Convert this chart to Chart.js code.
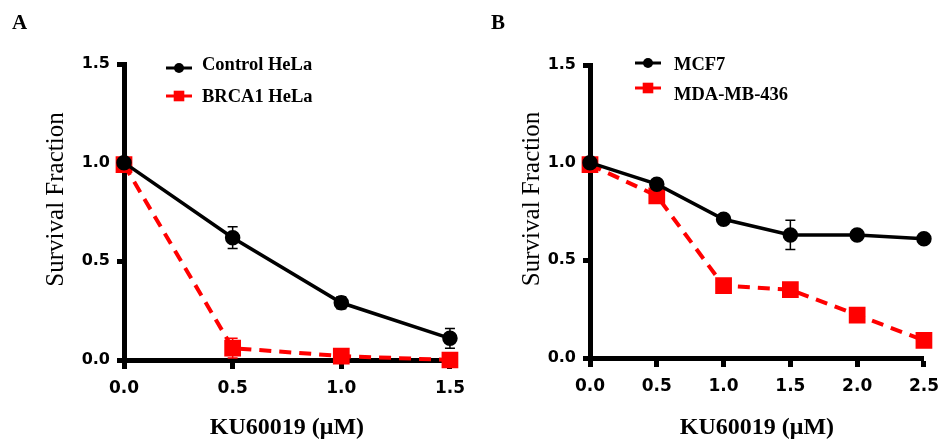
<!DOCTYPE html>
<html>
<head>
<meta charset="utf-8">
<script src="https://cdn.jsdelivr.net/npm/chart.js@4.4.1/dist/chart.umd.min.js"></script>
<style>
  body { margin: 0; background: #fff; width: 948px; height: 444px; overflow: hidden; position: relative; }
  .panel { position: absolute; top: 0; width: 474px; height: 444px; }
  .tag { position: absolute; top: 10px; font: bold 21px "Liberation Serif", serif; color: #000; }
</style>
</head>
<body>
<div class="panel" style="left:0"><canvas id="chartA" width="474" height="444"></canvas></div>
<div class="panel" style="left:474px"><canvas id="chartB" width="474" height="444"></canvas></div>
<div class="tag" style="left:12px">A</div>
<div class="tag" style="left:491px">B</div>
<script>
// Panel A data
const dosesA = [0, 0.5, 1.0, 1.5];
const controlHeLa = [1.0, 0.62, 0.29, 0.11];
const controlHeLaErr = [0, 0.055, 0.03, 0.05];
const brca1HeLa = [0.99, 0.06, 0.02, 0.0];
const brca1HeLaErr = [0, 0.05, 0.01, 0];

// Panel B data
const dosesB = [0, 0.5, 1.0, 1.5, 2.0, 2.5];
const mcf7 = [1.0, 0.89, 0.71, 0.63, 0.63, 0.61];
const mcf7Err = [0, 0.015, 0.02, 0.075, 0.01, 0.01];
const mda436 = [0.99, 0.83, 0.37, 0.35, 0.22, 0.09];
const mda436Err = [0, 0.03, 0.015, 0.035, 0.015, 0.01];

const yMax = 1.5;
const tickStep = 0.5;

function points(xs, ys) {
  return xs.map((x, i) => ({ x: x, y: ys[i] }));
}

// error bars drawn under the markers
const errorBars = {
  id: 'errorBars',
  beforeDatasetsDraw(chart) {
    const { ctx, scales: { x, y } } = chart;
    chart.data.datasets.slice().reverse().forEach(ds => {
      ctx.save();
      ctx.strokeStyle = ds.borderColor;
      ctx.lineWidth = 1.5;
      ds.data.forEach((p, j) => {
        const e = ds.errors[j];
        if (!e) return;
        const px = x.getPixelForValue(p.x);
        const top = y.getPixelForValue(p.y + e);
        const bot = y.getPixelForValue(p.y - e);
        ctx.beginPath();
        ctx.moveTo(px, top); ctx.lineTo(px, bot);
        ctx.moveTo(px - 5, top); ctx.lineTo(px + 5, top);
        ctx.moveTo(px - 5, bot); ctx.lineTo(px + 5, bot);
        ctx.stroke();
      });
      ctx.restore();
    });
  }
};

// legend placed inside the plot, top left
const innerLegend = {
  id: 'innerLegend',
  afterDraw(chart, args, opts) {
    const { ctx, chartArea } = chart;
    chart.data.datasets.forEach((ds, i) => {
      const x0 = chartArea.left + opts.lineStart;
      const x1 = x0 + 26;
      const ys = opts.sampleY[i];
      ctx.save();
      ctx.strokeStyle = ds.borderColor;
      ctx.fillStyle = ds.backgroundColor;
      ctx.lineWidth = 3;
      ctx.beginPath(); ctx.moveTo(x0, ys); ctx.lineTo(x1, ys); ctx.stroke();
      Chart.helpers.drawPoint(ctx, {
        pointStyle: ds.pointStyle,
        radius: ds.pointStyle === 'rect' ? 7.5 : 5,
        borderWidth: 0
      }, (x0 + x1) / 2, ys);
      ctx.fillStyle = '#000';
      ctx.font = 'bold 18.5px "Liberation Serif", serif';
      ctx.textBaseline = 'middle';
      ctx.fillText(ds.label, chartArea.left + opts.textStart, opts.textY[i]);
      ctx.restore();
    });
  }
};

function makeDatasets(doses, s1, e1, l1, s2, e2, l2) {
  return [
    {
      label: l1, data: points(doses, s1), errors: e1,
      borderColor: '#000', backgroundColor: '#000', borderWidth: 3.5,
      pointStyle: 'circle', pointRadius: 6, pointHoverRadius: 6, clip: false
    },
    {
      label: l2, data: points(doses, s2), errors: e2,
      borderColor: '#ff0000', backgroundColor: '#ff0000', borderWidth: 4,
      borderDash: [12, 8], pointStyle: 'rect', pointRadius: 9, pointHoverRadius: 9, clip: false
    }
  ];
}

function makeChart(id, datasets, xMax, yWidth, xHeight, pad, yTitlePad, legend) {
  return new Chart(document.getElementById(id), {
    type: 'line',
    data: { datasets: datasets },
    plugins: [errorBars, innerLegend],
    options: {
      responsive: false,
      animation: false,
      layout: { padding: pad },
      plugins: { legend: { display: false }, tooltip: { enabled: false }, innerLegend: legend },
      scales: {
        x: {
          type: 'linear', min: 0, max: xMax,
          afterFit: s => { s.height = xHeight; },
          grid: { drawOnChartArea: false, tickLength: 9, tickWidth: 5, tickColor: '#000' },
          border: { color: '#000', width: 5 },
          ticks: {
            stepSize: tickStep, padding: 9, color: '#000',
            font: { family: '"DejaVu Sans", sans-serif', weight: 'bold', size: 17 },
            callback: v => v.toFixed(1)
          },
          title: {
            display: true, text: 'KU60019 (μM)', color: '#000', padding: { top: 0, bottom: 4 },
            font: { family: '"Liberation Serif", serif', weight: 'bold', size: 24, lineHeight: 1 }
          }
        },
        y: {
          min: 0, max: yMax,
          afterFit: s => { s.width = yWidth; },
          grid: { drawOnChartArea: false, tickLength: 7, tickWidth: 5, tickColor: '#000' },
          border: { color: '#000', width: 5 },
          ticks: {
            stepSize: tickStep, padding: 7, color: '#000',
            font: { family: '"DejaVu Sans", sans-serif', weight: 'bold', size: 16 },
            callback: v => v.toFixed(1)
          },
          title: {
            // leading spaces lift the rotated title a little, as in the original
            display: true, text: '    Survival Fraction', color: '#000', padding: { top: yTitlePad, bottom: 0 },
            font: { family: '"Liberation Serif", serif', weight: 'normal', size: 25, lineHeight: 1 }
          }
        }
      }
    }
  });
}

makeChart('chartA',
  makeDatasets(dosesA, controlHeLa, controlHeLaErr, 'Control HeLa', brca1HeLa, brca1HeLaErr, 'BRCA1 HeLa'),
  1.5, 124, 84, { top: 64, right: 22, left: 0, bottom: 0 }, 44,
  { lineStart: 42, textStart: 78, sampleY: [68, 96], textY: [65, 97] });

makeChart('chartB',
  makeDatasets(dosesB, mcf7, mcf7Err, 'MCF7', mda436, mda436Err, 'MDA-MB-436'),
  2.5, 116, 86, { top: 65, right: 18, left: 0, bottom: 0 }, 46,
  { lineStart: 45, textStart: 84, sampleY: [63, 88], textY: [65, 95] });
</script>
</body>
</html>
